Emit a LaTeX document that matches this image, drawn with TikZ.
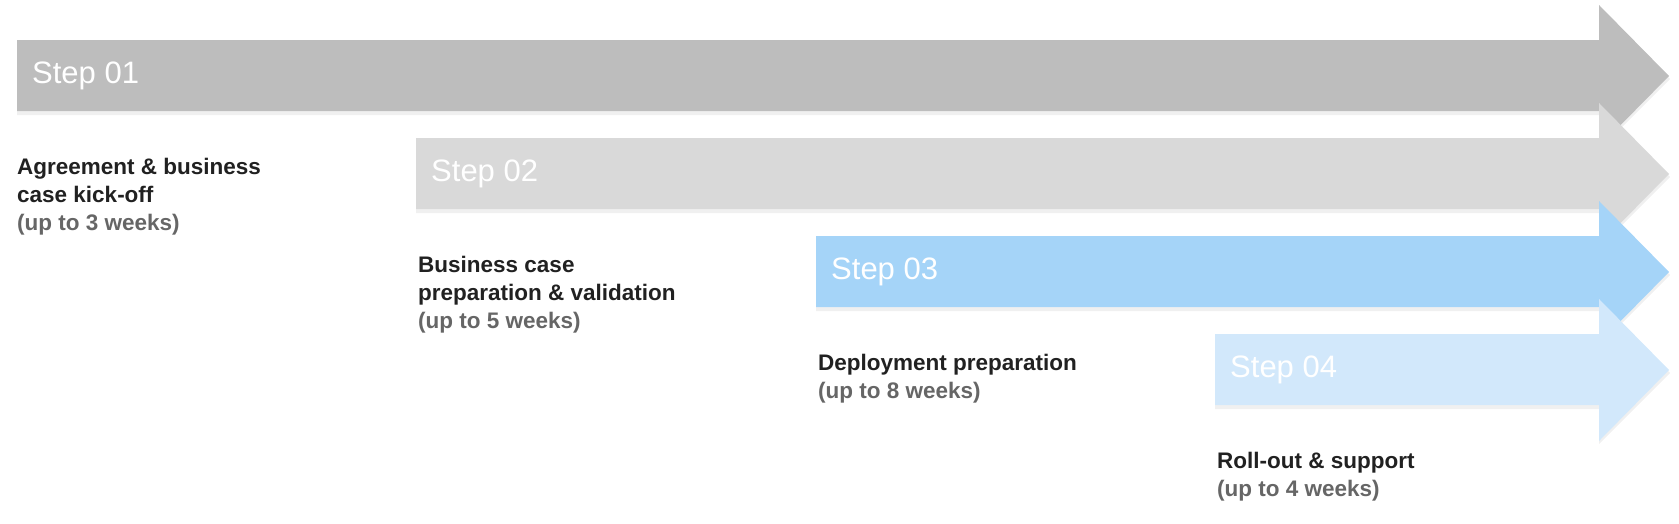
\documentclass[tikz,border=0pt]{standalone}
\usepackage{fontspec}
\setmainfont{Liberation Sans}
\usetikzlibrary{positioning}
\definecolor{stepA}{HTML}{BDBDBD}
\definecolor{stepB}{HTML}{D9D9D9}
\definecolor{stepC}{HTML}{A5D4F8}
\definecolor{stepD}{HTML}{D2E8FB}
\definecolor{weeks}{HTML}{666666}
\definecolor{desc}{HTML}{212121}
\tikzset{
  steplabel/.style={anchor=west, text=white, font=\fontsize{31}{34}\selectfont, inner sep=0pt},
  stepdesc/.style={anchor=north west, align=left, text=desc, inner sep=0pt,
    font=\bfseries\fontsize{22.5}{28}\selectfont},
}
\begin{document}
\begin{tikzpicture}[x=1pt,y=-1pt]
    \useasboundingbox (0,0) rectangle (1679,523);

    % the arrows, each one shifted right and down from the last
    \foreach \i/\xs/\col in {1/17/stepA, 2/416/stepB, 3/816/stepC, 4/1215/stepD} {
        \pgfmathsetmacro{\yc}{76+(\i-1)*98}
        \fill[black, opacity=0.06] (\xs,\yc-35+3) -- (1599,\yc-35+3) -- (1599,\yc-71+3)
            -- (1670,\yc+3) -- (1599,\yc+71+3) -- (1599,\yc+36+3) -- (\xs,\yc+36+3) -- cycle;
        \fill[\col] (\xs,\yc-36) -- (1599,\yc-36) -- (1599,\yc-71)
            -- (1669,\yc) -- (1599,\yc+71) -- (1599,\yc+35) -- (\xs,\yc+35) -- cycle;
        \coordinate (a\i) at (\xs,\yc);
    }

    % the texts
    \node[steplabel] (s1) at ([xshift=15pt]a1) {Step 01};
    \node[steplabel] (s2) at ([xshift=15pt]a2) {Step 02};
    \node[steplabel] (s3) at ([xshift=15pt]a3) {Step 03};
    \node[steplabel] (s4) at ([xshift=15pt]a4) {Step 04};

    \node[stepdesc] (d1) at (17,158) {Agreement \& business\\case kick-off\\
        \textcolor{weeks}{(up to 3 weeks)}};
    \node[stepdesc] (d2) at (418,256) {Business case\\preparation \& validation\\
        \textcolor{weeks}{(up to 5 weeks)}};
    \node[stepdesc] (d3) at (818,354) {Deployment preparation\\
        \textcolor{weeks}{(up to 8 weeks)}};
    \node[stepdesc] (d4) at (1217,452) {Roll-out \& support\\
        \textcolor{weeks}{(up to 4 weeks)}};
\end{tikzpicture}
\end{document}
